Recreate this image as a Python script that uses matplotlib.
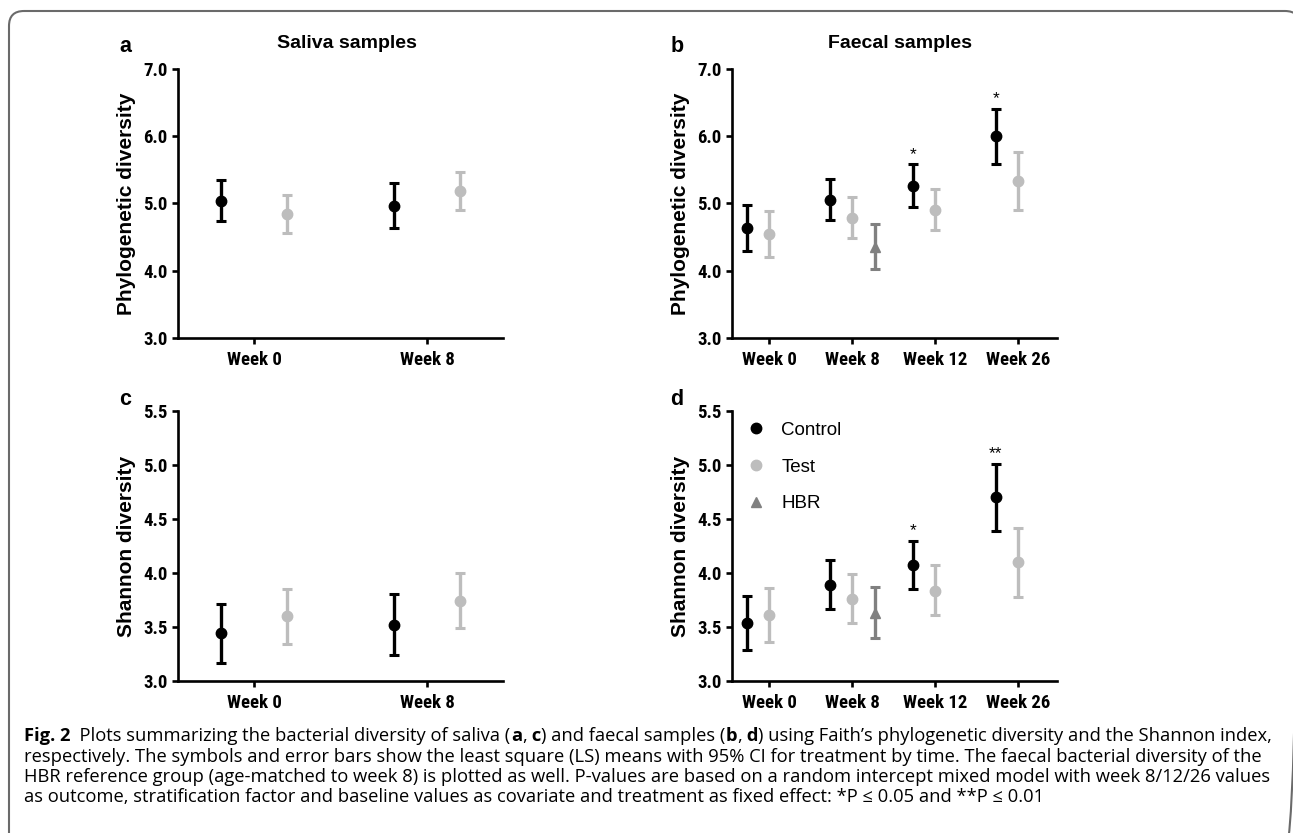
import os
import matplotlib
matplotlib.use('Agg')
import matplotlib.pyplot as plt
from matplotlib import font_manager
from matplotlib.font_manager import FontProperties
from matplotlib.lines import Line2D
from matplotlib.patches import FancyBboxPatch

# LS means with 95% CI
saliva_weeks = ['Week 0', 'Week 8']
faecal_weeks = ['Week 0', 'Week 8', 'Week 12', 'Week 26']

# phylogenetic diversity, saliva
pd_saliva_control = [5.04, 4.96]
pd_saliva_control_lo = [4.74, 4.64]
pd_saliva_control_hi = [5.35, 5.30]
pd_saliva_test = [4.84, 5.18]
pd_saliva_test_lo = [4.56, 4.90]
pd_saliva_test_hi = [5.13, 5.47]

# phylogenetic diversity, faecal
pd_faecal_control = [4.64, 5.05, 5.26, 6.00]
pd_faecal_control_lo = [4.30, 4.75, 4.95, 5.58]
pd_faecal_control_hi = [4.98, 5.36, 5.58, 6.41]
pd_faecal_test = [4.55, 4.79, 4.91, 5.34]
pd_faecal_test_lo = [4.21, 4.48, 4.60, 4.91]
pd_faecal_test_hi = [4.89, 5.10, 5.22, 5.77]
pd_hbr = [4.35]
pd_hbr_lo = [4.03]
pd_hbr_hi = [4.70]

# shannon diversity, saliva
sh_saliva_control = [3.44, 3.52]
sh_saliva_control_lo = [3.17, 3.24]
sh_saliva_control_hi = [3.71, 3.81]
sh_saliva_test = [3.60, 3.74]
sh_saliva_test_lo = [3.34, 3.49]
sh_saliva_test_hi = [3.85, 4.00]

# shannon diversity, faecal
sh_faecal_control = [3.54, 3.89, 4.07, 4.70]
sh_faecal_control_lo = [3.29, 3.67, 3.85, 4.39]
sh_faecal_control_hi = [3.79, 4.12, 4.30, 5.01]
sh_faecal_test = [3.61, 3.76, 3.83, 4.10]
sh_faecal_test_lo = [3.36, 3.54, 3.61, 3.78]
sh_faecal_test_hi = [3.86, 3.99, 4.07, 4.42]
sh_hbr = [3.63]
sh_hbr_lo = [3.40]
sh_hbr_hi = [3.87]
hbr_weeks = ['Week 8']

pd_ticks = [3.0, 4.0, 5.0, 6.0, 7.0]
sh_ticks = [3.0, 3.5, 4.0, 4.5, 5.0, 5.5]

# significance marks over control (week index, label)
pd_sig = [(2, '*'), (3, '*')]
sh_sig = [(2, '*'), (3, '**')]

caption = [
    [('Fig. 2', True), ('  Plots summarizing the bacterial diversity of saliva (', False), ('a', True),
     (',', False), (' c', True), (') and faecal samples (', False), ('b', True), (',', False), (' d', True),
     (') using Faith\u2019s phylogenetic diversity and the Shannon index,', False)],
    [('respectively. The symbols and error bars show the least square (LS) means with 95% CI for '
      'treatment by time. The faecal bacterial diversity of the', False)],
    [('HBR reference group (age-matched to week 8) is plotted as well. P-values are based on a random '
      'intercept mixed model with week 8/12/26 values', False)],
    [('as outcome, stratification factor and baseline values as covariate and treatment as fixed '
      'effect: *P \u2264 0.05 and **P \u2264 0.01', False)],
]

plt.rcParams['font.family'] = ['Liberation Sans', 'DejaVu Sans']


def narrow_bold(size):
    # look for a condensed bold face, like the Arial Narrow of the original
    wanted = ['liberationsansnarrow-bold.', 'arialnb', 'robotocondensed-bold.',
              'notosans-condensedbold.', 'dejavusanscondensed-bold.', 'opensans-condensedbold.']
    files = [f.fname for f in font_manager.fontManager.ttflist]
    for w in wanted:
        for fn in files:
            if w in os.path.basename(fn).lower():
                return FontProperties(fname=fn, size=size)
    return FontProperties(family='Liberation Sans', weight='bold', size=size - 1.5)


tick_fp = narrow_bold(13.5)
cap_font = ['Open Sans', 'DejaVu Sans']

CONTROL = '#000000'
TEST = '#bdbdbd'
HBR = '#808080'

W, H = 1293, 833
fig = plt.figure(figsize=(W / 100, H / 100), dpi=100)


def px_axes(x0, y0, x1, y1):
    return fig.add_axes([x0 / W, 1 - y1 / H, (x1 - x0) / W, (y1 - y0) / H])


def style(ax, weeks, ticks, xlim):
    ax.set_xlim(*xlim)
    ax.set_ylim(ticks[0], ticks[-1])
    for s in ['top', 'right']:
        ax.spines[s].set_visible(False)
    for s in ['left', 'bottom']:
        ax.spines[s].set_linewidth(1.9)
    ax.set_xticks(range(len(weeks)), weeks, fontproperties=tick_fp)
    ax.set_yticks(ticks, [f'{t:.1f}' for t in ticks], fontproperties=tick_fp)
    ax.tick_params(axis='x', direction='out', length=4.5, width=1.9, pad=5)
    ax.tick_params(axis='y', direction='out', length=4.5, width=1.9, pad=3)


def group(ax, weeks, allweeks, mean, lo, hi, off, color, marker):
    x = [allweeks.index(w) + off for w in weeks]
    err = [[m - l for m, l in zip(mean, lo)], [h - m for m, h in zip(mean, hi)]]
    ax.errorbar(x, mean, yerr=err, fmt=marker, color=color, mec=color, ms=7.5,
                elinewidth=2.4, capsize=3.3, capthick=2.2, zorder=3)


def stars(ax, sig, hi, off):
    for i, lab in sig:
        ax.annotate(lab, (i + off, hi[i]), xytext=(0, 2), textcoords='offset points',
                    ha='center', va='bottom', fontsize=12.5)


ax_a = px_axes(178, 69, 503, 338)
ax_b = px_axes(732, 69, 1057, 338)
ax_c = px_axes(178, 411, 503, 681)
ax_d = px_axes(732, 411, 1057, 681)

# saliva panels
for ax, ticks, c, clo, chi, t, tlo, thi, lab in [
        (ax_a, pd_ticks, pd_saliva_control, pd_saliva_control_lo, pd_saliva_control_hi,
         pd_saliva_test, pd_saliva_test_lo, pd_saliva_test_hi, 'Phylogenetic diversity'),
        (ax_c, sh_ticks, sh_saliva_control, sh_saliva_control_lo, sh_saliva_control_hi,
         sh_saliva_test, sh_saliva_test_lo, sh_saliva_test_hi, 'Shannon diversity')]:
    style(ax, saliva_weeks, ticks, (-0.44, 1.44))
    group(ax, saliva_weeks, saliva_weeks, c, clo, chi, -0.19, CONTROL, 'o')
    group(ax, saliva_weeks, saliva_weeks, t, tlo, thi, 0.19, TEST, 'o')
    ax.set_ylabel(lab, fontsize=15, fontweight='bold')
    ax.yaxis.set_label_coords(-0.13, 0.5)

# faecal panels
for ax, ticks, c, clo, chi, t, tlo, thi, h, hlo, hhi, sig, lab in [
        (ax_b, pd_ticks, pd_faecal_control, pd_faecal_control_lo, pd_faecal_control_hi,
         pd_faecal_test, pd_faecal_test_lo, pd_faecal_test_hi, pd_hbr, pd_hbr_lo, pd_hbr_hi,
         pd_sig, 'Phylogenetic diversity'),
        (ax_d, sh_ticks, sh_faecal_control, sh_faecal_control_lo, sh_faecal_control_hi,
         sh_faecal_test, sh_faecal_test_lo, sh_faecal_test_hi, sh_hbr, sh_hbr_lo, sh_hbr_hi,
         sh_sig, 'Shannon diversity')]:
    style(ax, faecal_weeks, ticks, (-0.45, 3.47))
    group(ax, faecal_weeks, faecal_weeks, c, clo, chi, -0.27, CONTROL, 'o')
    group(ax, faecal_weeks, faecal_weeks, t, tlo, thi, 0.0, TEST, 'o')
    group(ax, hbr_weeks, faecal_weeks, h, hlo, hhi, 0.27, HBR, '^')
    stars(ax, sig, chi, -0.27)
    ax.set_ylabel(lab, fontsize=15, fontweight='bold')
    ax.yaxis.set_label_coords(-0.13, 0.5)

handles = [Line2D([], [], ls='none', marker='o', color=CONTROL, ms=7.5),
           Line2D([], [], ls='none', marker='o', color=TEST, ms=7.5),
           Line2D([], [], ls='none', marker='^', color=HBR, ms=7.5)]
ax_d.legend(handles, ['Control', 'Test', 'HBR'], loc='upper left', bbox_to_anchor=(0.045, 0.96),
            frameon=False, fontsize=13.5, handlelength=1.0, handletextpad=0.85,
            labelspacing=1.04, borderpad=0, borderaxespad=0)

# overlay in pixel coordinates for frame, panel letters, titles and caption
ov = fig.add_axes([0, 0, 1, 1], zorder=-1)
ov.set_xlim(0, W)
ov.set_ylim(H, 0)
ov.axis('off')
ov.add_patch(FancyBboxPatch((9, 11), 1291, 840, boxstyle='round,pad=0,rounding_size=15',
                            fill=False, ec='#6a6a6a', lw=1.5))

for s, x, y in [('a', 125, 52), ('b', 677, 52), ('c', 125, 405), ('d', 677, 405)]:
    ov.text(x, y, s, ha='center', va='baseline', fontsize=15.5, fontweight='bold')
ov.text(347, 48, 'Saliva samples', ha='center', va='baseline', fontsize=14, fontweight='bold')
ov.text(900, 48, 'Faecal samples', ha='center', va='baseline', fontsize=14, fontweight='bold')


def caption_line(pieces, x, y, size):
    arts = []
    prev = None
    for txt, bold in pieces:
        w = 'bold' if bold else 'normal'
        if prev is None:
            t = ov.text(x, y, txt, ha='left', va='baseline', fontsize=size, fontweight=w, family=cap_font)
        else:
            t = ov.annotate(txt, xy=(1, 0), xycoords=prev, ha='left', va='bottom',
                            fontsize=size, fontweight=w, family=cap_font)
        arts.append(t)
        prev = t
    return arts


# fit first caption line to its width in the reference
renderer = fig.canvas.get_renderer()
cap_x, cap_y0, cap_dy, cap_x1 = 24, 741, 20.5, 1274
trial = caption_line(caption[0], cap_x, cap_y0, 11)
fig.canvas.draw()
x1 = max(a.get_window_extent(renderer).x1 for a in trial)
size = 11 * (cap_x1 - cap_x) / (x1 - cap_x)
for a in trial:
    a.remove()
for i, line in enumerate(caption):
    caption_line(line, cap_x, cap_y0 + i * cap_dy, size)

fig.savefig('out.png', dpi=100)
